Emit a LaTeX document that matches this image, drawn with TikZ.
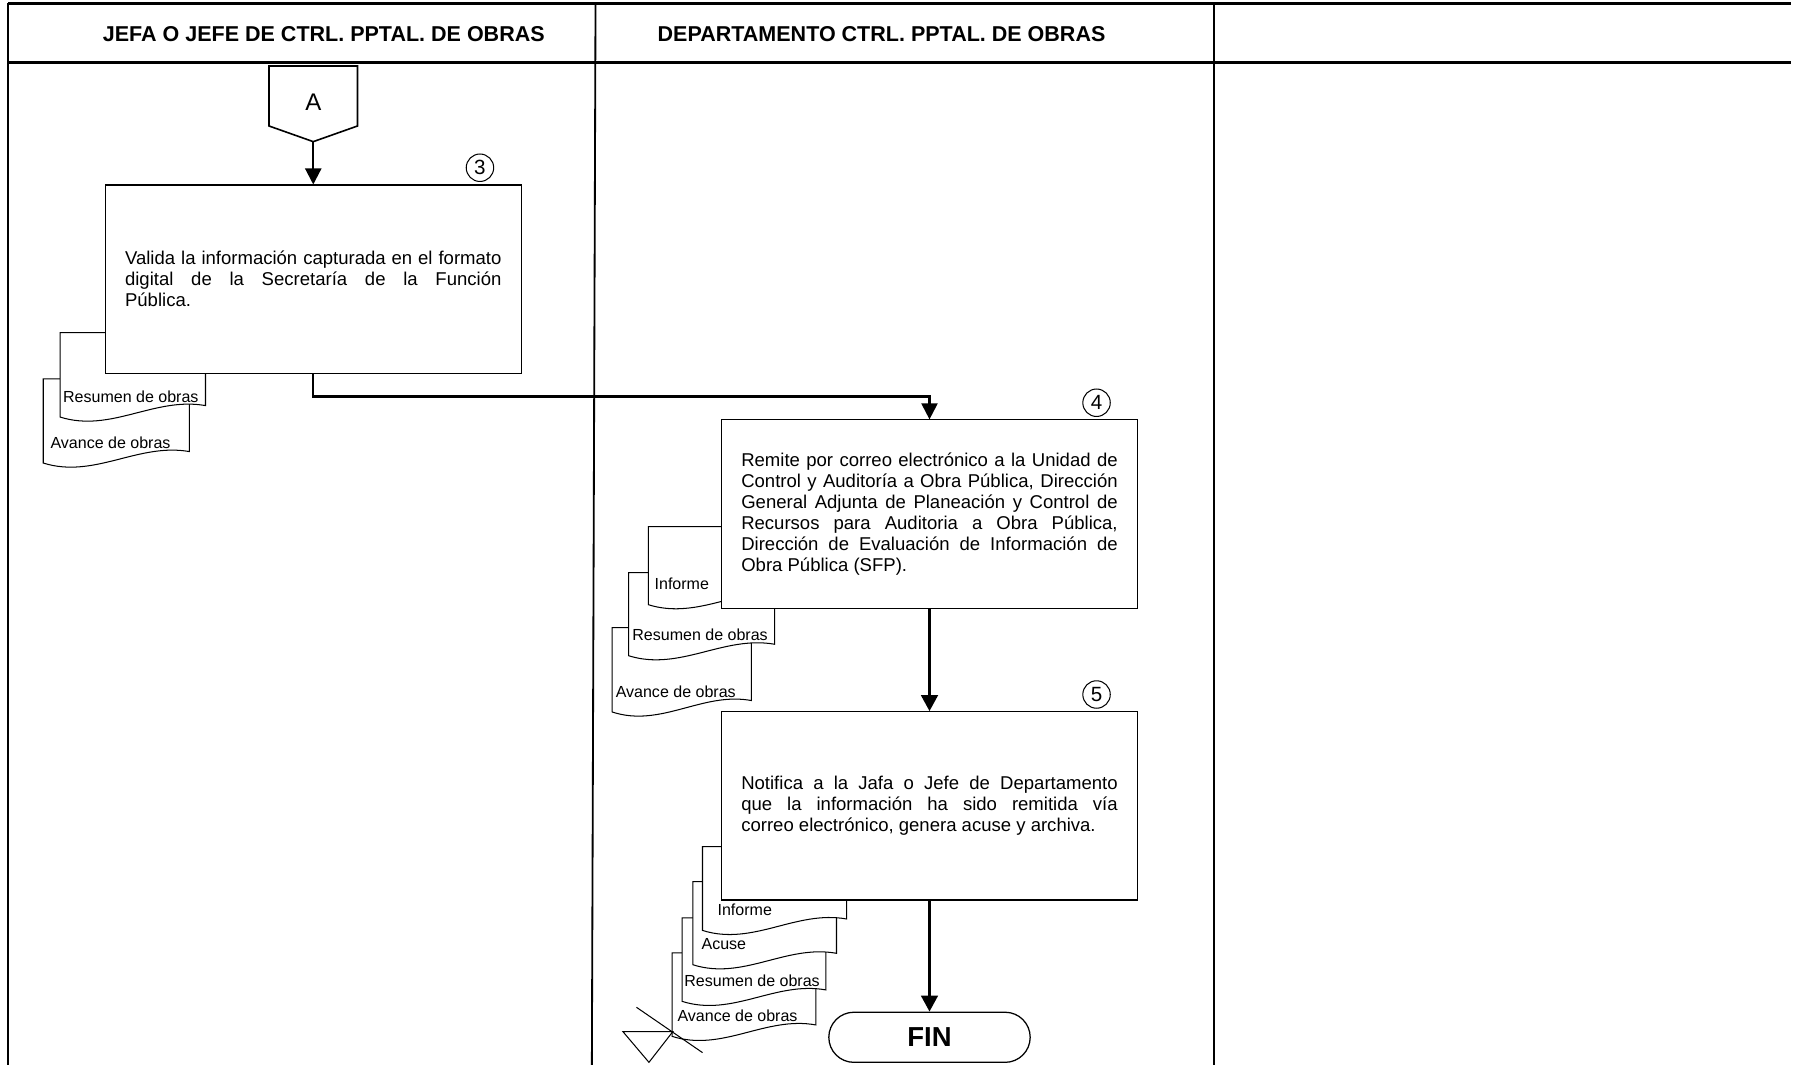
\documentclass[tikz,border=0pt]{standalone}
\usepackage{fontspec}
\setmainfont{Liberation Sans}
\usetikzlibrary{arrows.meta}
\hyphenpenalty=10000
\exhyphenpenalty=10000
\newcommand\bodyfont{\fontsize{16.2}{18.3}\selectfont\tolerance=10000 }
\newcommand\flowdoc[7]{% xl, ytop, xr, ybottom(right), label x, name, text
  \filldraw[docline] (#1,{#4+10}) -- (#1,#2) -- (#3,#2) -- (#3,#4)
    .. controls ({#1+0.65*(#3-#1)},{#4-8}) and ({#1+0.35*(#3-#1)},{#4+24}) .. (#1,{#4+10}) -- cycle;
  \node[doclabel] (#6) at (#5,{#4-8}) {#7};
}
\tikzset{
  frameline/.style={line width=2.2pt},
  laneline/.style={line width=1.6pt},
  header/.style={font=\bfseries\fontsize{18.8}{21}\selectfont, inner sep=0pt},
  procbox/.style={draw, line width=0.9pt, fill=white, minimum width=363.6pt, minimum height=164.6pt,
    text width=329pt, align=justify, inner sep=0pt, font=\bodyfont},
  docline/.style={line width=0.9pt, fill=white},
  doclabel/.style={anchor=west, inner sep=0pt, font=\fontsize{14}{14}\selectfont},
  stepnum/.style={circle, draw, line width=0.9pt, minimum size=24pt, inner sep=0pt, font=\fontsize{18}{18}\selectfont},
  flow/.style={line width=1.9pt, -{Triangle[length=14pt,width=14pt]}},
  flowbold/.style={line width=2.5pt, -{Triangle[length=14pt,width=14.5pt]}},
  offpage/.style={line width=1.4pt, fill=white},
  terminal/.style={draw, line width=1.1pt, rounded corners=21.9pt, minimum width=176pt, minimum height=43.8pt,
    inner sep=0pt, font=\bfseries\fontsize{24}{24}\selectfont},
}
\begin{document}
\begin{tikzpicture}[x=1pt, y=-1pt]
\useasboundingbox (0,0) rectangle (1568,930);
% frame
\draw[frameline] (7.3,2.9) -- (1565,2.9);
\draw[frameline] (7.3,54.5) -- (1565,54.5);
\draw[laneline] (7.3,2.9) -- (7.3,931);
\draw[laneline] (520.5,2.9) -- (517.3,931);
\draw[laneline] (1061,2.9) -- (1061,931);
\node[header] (h1) at (283,29.5) {JEFA O JEFE DE CTRL. PPTAL. DE OBRAS};
\node[header] (h2) at (770.5,29.5) {DEPARTAMENTO CTRL. PPTAL. DE OBRAS};

% off-page connector A
\filldraw[offpage] (235.1,57.7) -- (312.5,57.7) -- (312.5,110.1) -- (273.8,123.8) -- (235.1,110.1) -- cycle;
\node[font=\fontsize{21}{21}\selectfont, inner sep=0pt] (conA) at (273.8,89) {A};
\coordinate (Abot) at (273.8,123.8);

% step 3 documents
\flowdoc{37.8}{331.2}{165.6}{394.7}{44}{d1a}{Avance de obras}
\flowdoc{52.5}{290.8}{179.6}{354.5}{55}{d1r}{Resumen de obras}
\node[procbox] (p3) at (273.8,244) {Valida la información capturada en el formato\linebreak digital de la Secretaría de la Función\linebreak Pública.};
\node[stepnum] (n3) at (419.5,146.6) {3};

% step 4 documents
\flowdoc{535.1}{548.5}{656.8}{612.3}{538}{d2a}{Avance de obras}
\flowdoc{549.4}{500.5}{677.1}{563.1}{552.5}{d2r}{Resumen de obras}
\flowdoc{566.6}{460.3}{694}{518.5}{572}{d2i}{Informe}
\node[procbox] (p4) at (812.4,449.3) {Remite por correo electrónico a la Unidad de\linebreak Control y Auditoría a Obra Pública, Dirección\linebreak General Adjunta de Planeación y Control de\linebreak Recursos para Auditoria a Obra Pública,\linebreak Dirección de Evaluación de Información de\linebreak Obra Pública (SFP).};
\node[stepnum] (n4) at (958.4,352) {4};

% step 5 documents
\flowdoc{587.5}{832.8}{713}{895.8}{592}{d3a}{Avance de obras}
\flowdoc{596.2}{802.2}{721.8}{865.2}{598}{d3r}{Resumen de obras}
\flowdoc{605.6}{770.6}{731.1}{833.2}{613}{d3c}{Acuse}
\flowdoc{614}{740}{739.9}{803.2}{627}{d3i}{Informe}
\node[procbox] (p5) at (812.4,704.3) {Notifica a la Jafa o Jefe de Departamento\linebreak que la información ha sido remitida vía\linebreak correo electrónico, genera acuse y archiva.};
\node[stepnum] (n5) at (958.4,607) {5};

% archive symbol
\draw[line width=0.9pt] (544.4,901.6) -- (588.1,901.6) -- (567.2,928.5) -- cycle;
\draw[line width=0.9pt] (556.3,880.4) -- (614,920);

% terminal
\node[terminal] (fin) at (812.4,906.6) {FIN};

% connectors
\coordinate (turn) at (273.8,346.5);
\draw[flow] (Abot) -- (p3.north);
\draw[flow] (p3.south) -- (turn) -| (p4.north);
\draw[flowbold] (p4.south) -- (p5.north);
\draw[flowbold] (p5.south) -- (fin.north);
\end{tikzpicture}
\end{document}
